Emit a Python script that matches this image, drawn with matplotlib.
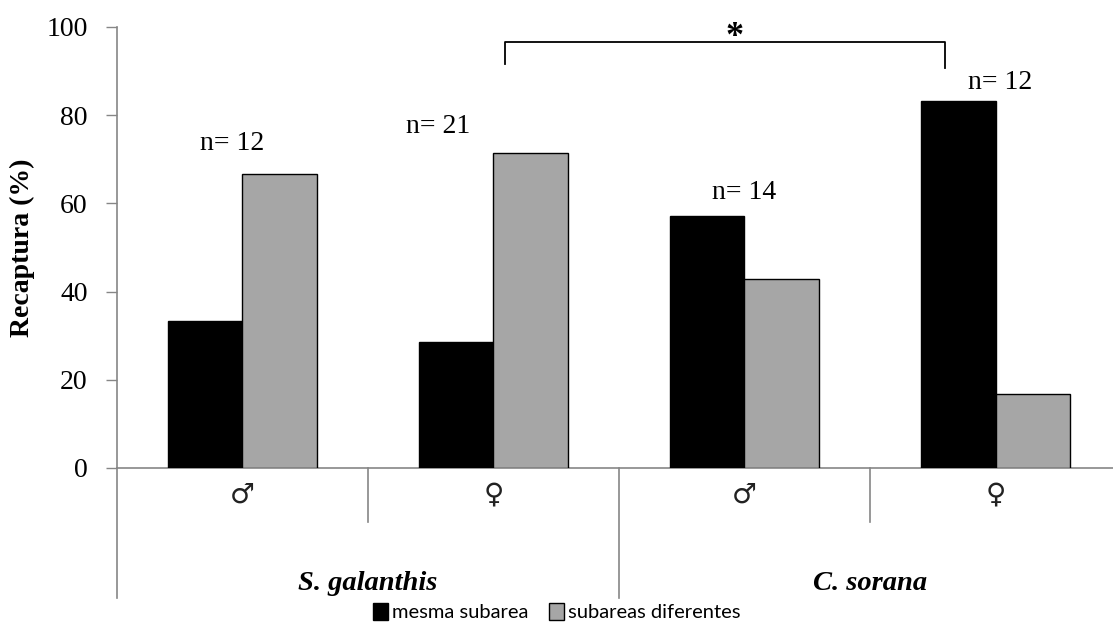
import matplotlib
matplotlib.use("Agg")
import matplotlib.pyplot as plt
import matplotlib.transforms as mtransforms
from matplotlib.patches import Patch
import numpy as np

sexes = ["♂", "♀", "♂", "♀"]
species = ["S. galanthis", "C. sorana"]
mesma = [33.3, 28.6, 57.1, 83.3]
diferentes = [66.7, 71.4, 42.9, 16.7]
n_labels = ["n= 12", "n= 21", "n= 14", "n= 12"]
n_label_y = [73.5, 77.5, 62.5, 87.5]
n_label_dx = [-0.04, -0.22, 0.0, 0.02]
yticks = [0, 20, 40, 60, 80, 100]

serif = ["Liberation Serif", "DejaVu Sans"]
axis_gray = "#868686"

fig = plt.figure(figsize=(11.13, 6.35), dpi=100)
ax = fig.add_axes([0.1051, 0.263, 0.9021, 0.6945])

x = np.arange(len(sexes))
w = 0.295
ax.bar(x - w / 2, mesma, width=w, color="black", edgecolor="black", linewidth=1, label="mesma subarea", zorder=3)
ax.bar(x + w / 2, diferentes, width=w, color="#a6a6a6", edgecolor="black", linewidth=1, label="subareas diferentes", zorder=3)

ax.set_xlim(-0.5, 3.5)
ax.set_ylim(0, 100)
ax.set_yticks(yticks)
ax.set_yticklabels([str(t) for t in yticks], family=serif, fontsize=20)
ax.tick_params(axis="y", direction="out", length=8, width=1, color=axis_gray, pad=13)
ax.set_xticks([])
for s in ["top", "right"]:
    ax.spines[s].set_visible(False)
for s in ["left", "bottom"]:
    ax.spines[s].set_color(axis_gray)
    ax.spines[s].set_linewidth(1.2)

ax.set_ylabel("Recaptura (%)", family=serif, fontsize=20, fontweight="bold")
ax.yaxis.set_label_coords(-0.0817, 0.5)

# n labels
for i, (lab, yy, dx) in enumerate(zip(n_labels, n_label_y, n_label_dx)):
    ax.text(i + dx, yy, lab, family=serif, fontsize=20, ha="center", va="center")

# significance bracket
bx0, bx1 = 1.045, 2.8
ax.plot([bx0, bx0, bx1, bx1], [91.6, 96.7, 96.7, 90.7], color="black", linewidth=1.3, clip_on=False)
ax.text(1.96, 97.6, "*", family=serif, fontsize=26, fontweight="bold", ha="center", va="center")

# category axis separators and labels
trans = mtransforms.blended_transform_factory(ax.transData, ax.transAxes)
for xs in [0.5, 2.5]:
    ax.plot([xs, xs], [0, -0.1224], transform=trans, color=axis_gray, linewidth=1.2, clip_on=False)
for xs in [-0.5, 1.5, 3.5]:
    ax.plot([xs, xs], [0, -0.295], transform=trans, color=axis_gray, linewidth=1.2, clip_on=False)
for i, s in enumerate(sexes):
    ax.text(i, -0.061, s, transform=trans, family=["DejaVu Sans"], fontsize=20, ha="center", va="center", color="#222222")
for j, sp in enumerate(species):
    ax.text(2 * j + 0.5, -0.262, sp, transform=trans, family=serif, fontsize=20.5,
            fontweight="bold", fontstyle="italic", ha="center", va="center")

handles = [Patch(facecolor="black", edgecolor="black", label="mesma subarea"),
           Patch(facecolor="#a6a6a6", edgecolor="black", label="subareas diferentes")]
fig.legend(handles=handles, loc="center", bbox_to_anchor=(0.5, 0.036), ncol=2, frameon=False,
           prop={"family": "Lato", "size": 14.5}, handlelength=0.75, handleheight=0.9,
           handletextpad=0.2, columnspacing=1.0)

fig.savefig("out.png", dpi=100)
